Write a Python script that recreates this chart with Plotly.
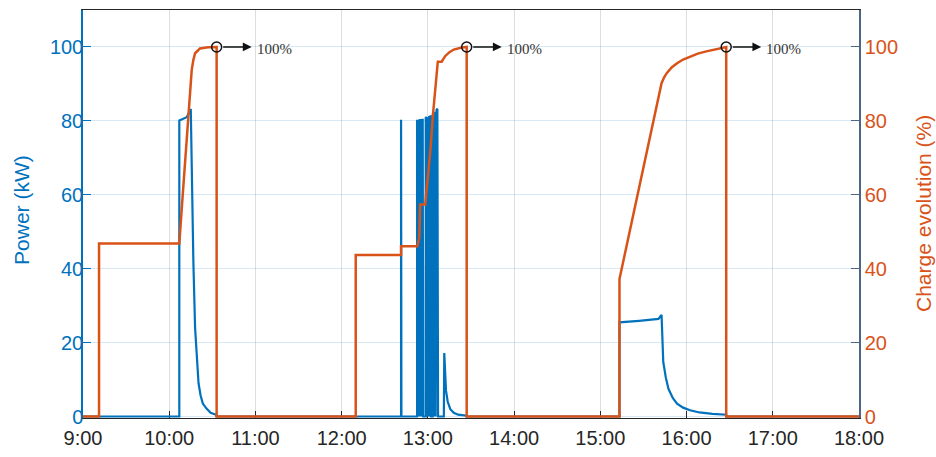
import plotly.graph_objects as go

# ---------------- data (time in decimal hours) ----------------
hour_ticks = [9, 10, 11, 12, 13, 14, 15, 16, 17, 18]
hour_labels = ["9:00", "10:00", "11:00", "12:00", "13:00", "14:00", "15:00", "16:00", "17:00", "18:00"]

power_t = [9.0, 10.117, 10.117, 10.16, 10.203, 10.25, 10.265, 10.28, 10.30, 10.32, 10.34, 10.364, 10.39, 10.43, 10.48, 10.55, 10.55,
           12.689, 12.689, 12.693, 12.693,
           12.875, 12.875, 12.880, 12.885, 12.890, 12.897, 12.902, 12.910, 12.915, 12.925, 12.930, 12.940, 12.945,
           12.975, 12.975, 12.985, 12.990, 13.000, 13.005, 13.015, 13.020, 13.030, 13.035,
           13.055, 13.055, 13.070, 13.075, 13.085, 13.090, 13.100, 13.110, 13.118,
           13.185, 13.190, 13.200, 13.210, 13.230, 13.260, 13.300, 13.350, 13.450, 13.450,
           15.222, 15.222, 15.45, 15.674, 15.71, 15.72, 15.73, 15.76, 15.79, 15.84, 15.89, 15.96, 16.04, 16.15, 16.30, 16.46, 16.46, 18.0]
power_kw = [0, 0, 80.1, 80.5, 81.0, 83.2, 60, 42, 24, 14.7, 9, 5.7, 3.5, 2.2, 1.0, 0.4, 0,
            0, 80.3, 80.3, 0,
            0, 80.3, 0, 80.3, 0, 80.4, 0, 80.5, 0, 80.5, 0, 80.6, 0,
            0, 80.8, 81.0, 0, 81.0, 0, 81.3, 0, 81.5, 0,
            0, 81.5, 82.0, 0, 82.5, 0, 83.0, 83.3, 0,
            0, 17.2, 11, 7, 4, 2, 1, 0.5, 0.2, 0,
            0, 25.5, 25.9, 26.4, 27.5, 20, 14.7, 10.5, 7.5, 5, 3.5, 2.4, 1.7, 1.1, 0.7, 0.5, 0, 0]

charge_t = [9.0, 9.186, 9.186, 10.117, 10.15, 10.19, 10.222, 10.245, 10.261, 10.28, 10.30, 10.357, 10.45, 10.55, 10.55,
            12.163, 12.163, 12.689, 12.689, 12.878, 12.90, 12.91, 12.97, 12.98, 13.03, 13.06, 13.09, 13.115, 13.16, 13.20,
            13.25, 13.30, 13.38, 13.45, 13.45,
            15.222, 15.222, 15.71, 15.74, 15.77, 15.83, 15.89, 15.96, 16.04, 16.13, 16.23, 16.35, 16.46, 16.46, 18.0]
charge_pct = [0, 0, 46.8, 46.8, 57.8, 71.3, 82, 89, 93.8, 96.5, 98.3, 99.6, 99.9, 100, 0,
              0, 43.7, 43.7, 46.1, 46.1, 48.4, 57.4, 57.4, 60, 72.2, 82, 90, 96, 96, 97.5,
              98.6, 99.3, 99.8, 100, 0,
              0, 37.2, 90.2, 91.8, 92.9, 94.5, 95.6, 96.6, 97.4, 98.2, 98.8, 99.5, 100, 0, 0]

full_label = "100%"

# ---------------- style ----------------
BLUE = "#0072BD"
ORANGE = "#D95319"
DARK = "#262626"
FONT = "Liberation Sans, Arial, sans-serif"

# times where the charge reaches 100 %
full_times = [t for t, v in zip(charge_t, charge_pct) if v >= 100]

fig = go.Figure()
fig.add_trace(go.Scatter(x=power_t, y=power_kw, mode="lines",
                         line=dict(color=BLUE, width=2.2), yaxis="y", showlegend=False))
fig.add_trace(go.Scatter(x=charge_t, y=charge_pct, mode="lines",
                         line=dict(color=ORANGE, width=2.5), yaxis="y2", showlegend=False))
fig.add_trace(go.Scatter(x=full_times, y=[100] * len(full_times), mode="markers",
                         marker=dict(symbol="circle-open", size=10, color="#111111",
                                     line=dict(width=1.5, color="#111111")),
                         yaxis="y2", showlegend=False, cliponaxis=False))

annotations = []
for t in full_times:
    annotations.append(dict(x=t, y=100, xref="x", yref="y2", text="", showarrow=True,
                            xshift=35, ax=-30, ay=0, arrowhead=2, arrowsize=1.1,
                            arrowwidth=1.6, arrowcolor="#111111"))
    annotations.append(dict(x=t, y=100, xref="x", yref="y2", text=full_label, showarrow=False,
                            xanchor="left", yanchor="middle", xshift=38, yshift=-2,
                            font=dict(family="Liberation Serif, Times New Roman, serif",
                                      size=15, color="#333333")))

annotations.append(dict(x=0, y=0.51, xref="paper", yref="paper", text="Power (kW)",
                        textangle=-90, showarrow=False, xanchor="center", yanchor="middle",
                        xshift=-61, font=dict(family=FONT, size=21, color=BLUE)))
annotations.append(dict(x=1, y=0.5, xref="paper", yref="paper", text="Charge evolution (%)",
                        textangle=-90, showarrow=False, xanchor="center", yanchor="middle",
                        xshift=64, font=dict(family=FONT, size=21, color=ORANGE)))

fig.update_layout(
    width=936, height=457,
    margin=dict(l=83, r=77, t=10, b=39),
    paper_bgcolor="white", plot_bgcolor="white",
    font=dict(family=FONT),
    xaxis=dict(range=[9, 18], tickvals=hour_ticks, ticktext=hour_labels,
               showgrid=True, gridcolor="rgba(0,0,0,0.13)", gridwidth=1,
               ticks="inside", ticklen=7, tickcolor=DARK, tickwidth=1.2,
               showline=True, linecolor=DARK, linewidth=1.2, mirror=True,
               tickfont=dict(size=20, color=DARK), zeroline=False, layer="below traces",
               ticklabelstandoff=2, automargin=False),
    yaxis=dict(range=[-0.4, 110], tickvals=[0, 20, 40, 60, 80, 100],
               showgrid=True, gridcolor="rgba(0,114,189,0.16)", gridwidth=1,
               ticks="inside", ticklen=8, tickcolor=BLUE, tickwidth=1.2,
               showline=True, linecolor=BLUE, linewidth=1.5,
               tickfont=dict(size=20, color=BLUE), zeroline=False, layer="below traces",
               ticklabelstandoff=-6, automargin=False),
    yaxis2=dict(range=[-0.4, 110], tickvals=[0, 20, 40, 60, 80, 100], overlaying="y", side="right",
                showgrid=False, ticks="inside", ticklen=8, tickcolor="#4d6684", tickwidth=1.2,
                showline=True, linecolor="#4d6684", linewidth=1.5,
                tickfont=dict(size=20, color=ORANGE), zeroline=False, layer="below traces",
                automargin=False),
    annotations=annotations,
)

fig.write_html("out.html", config={"displayModeBar": False},
               post_script="document.body.style.margin='0px';")
